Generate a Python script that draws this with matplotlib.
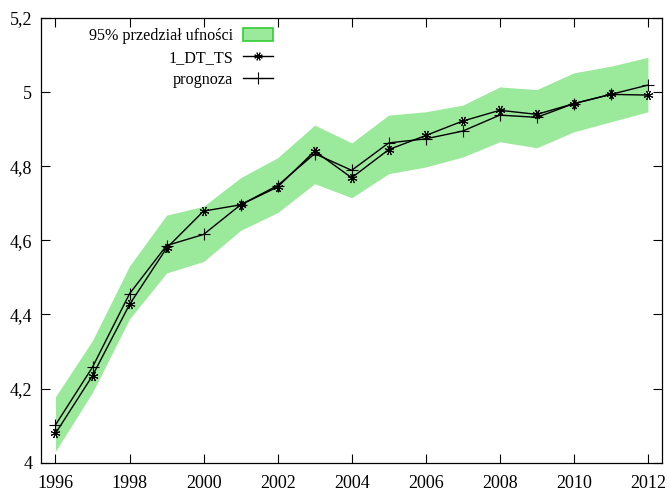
import matplotlib.pyplot as plt
from matplotlib.patches import Patch
from matplotlib.lines import Line2D

plt.rcParams['font.family'] = ['Liberation Serif', 'DejaVu Serif']

# dane
lata = [1996, 1997, 1998, 1999, 2000, 2001, 2002, 2003, 2004, 2005, 2006, 2007, 2008, 2009, 2010, 2011, 2012]
l_dt_ts = [4.079, 4.235, 4.427, 4.579, 4.679, 4.696, 4.744, 4.841, 4.769, 4.845, 4.883, 4.922, 4.951, 4.940, 4.969, 4.994, 4.992]
prognoza = [4.102, 4.258, 4.456, 4.586, 4.616, 4.696, 4.748, 4.834, 4.789, 4.863, 4.874, 4.895, 4.938, 4.932, 4.969, 4.994, 5.019]
gorna = [4.178, 4.330, 4.531, 4.668, 4.692, 4.769, 4.823, 4.911, 4.863, 4.938, 4.947, 4.965, 5.014, 5.007, 5.052, 5.070, 5.094]
dolna = [4.031, 4.190, 4.388, 4.512, 4.543, 4.627, 4.675, 4.753, 4.715, 4.780, 4.798, 4.825, 4.866, 4.850, 4.893, 4.920, 4.947]

x_ticks = [1996, 1998, 2000, 2002, 2004, 2006, 2008, 2010, 2012]
y_ticks = [4.0, 4.2, 4.4, 4.6, 4.8, 5.0, 5.2]
y_labels = ["4", "4,2", "4,4", "4,6", "4,8", "5", "5,2"]

fig = plt.figure(figsize=(6.69, 4.91), dpi=100)
ax = fig.add_axes([0.0608, 0.0576, 0.9287, 0.9057])

ax.fill_between(lata, dolna, gorna, color="#9be99b", linewidth=0)
gwiazdka = (8, 2, 22.5)
ax.plot(lata, l_dt_ts, color="black", linewidth=1.0, marker=gwiazdka, markersize=7, markeredgewidth=0.7)
ax.plot(lata, prognoza, color="black", linewidth=1.0, marker="+", markersize=9, markeredgewidth=0.8)

ax.set_xlim(1995.6, 2012.38)
ax.set_ylim(4.0, 5.2)
ax.set_xticks(x_ticks)
ax.set_yticks(y_ticks)
ax.set_yticklabels(y_labels)
ax.tick_params(direction="in", length=6.5, width=0.8, top=True, right=True, labelsize=13, pad=6)
ax.tick_params(axis="x", pad=9)
for s in ax.spines.values():
    s.set_linewidth(0.9)

uchwyty = [
    Patch(facecolor="#9be99b", edgecolor="#33cc33", linewidth=1.2),
    Line2D([], [], color="black", linewidth=1.0, marker=gwiazdka, markersize=6, markeredgewidth=0.7),
    Line2D([], [], color="black", linewidth=1.0, marker="+", markersize=8, markeredgewidth=0.8),
]
etykiety = ["95% przedział ufności", "1_DT_TS", "prognoza"]
ax.legend(uchwyty, etykiety, loc="upper left", bbox_to_anchor=(0.060, 1.003), frameon=False,
          markerfirst=False, fontsize=11.6, handlelength=1.85, handleheight=0.8,
          labelspacing=0.36, handletextpad=0.6, borderpad=0.2)

fig.savefig("out.png", dpi=100)
